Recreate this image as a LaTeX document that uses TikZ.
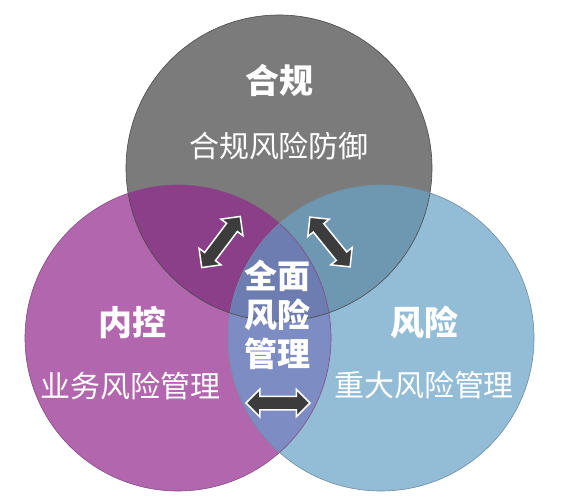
\documentclass[tikz,border=0pt]{standalone}
\usepackage{fontspec}
\newfontfamily\cjk{Noto Sans CJK SC}
\usepackage{xcolor}
\usetikzlibrary{shapes.arrows}
\definecolor{topgray}{HTML}{7B7B7B}
\definecolor{leftpurple}{HTML}{B266AE}
\definecolor{rightblue}{HTML}{93BCD6}
\definecolor{tlpurple}{HTML}{8A3F88}
\definecolor{trblue}{HTML}{6E98B1}
\definecolor{lrblue}{HTML}{7D8CC2}
\definecolor{allblue}{HTML}{6D7DB2}
\definecolor{arrowgray}{HTML}{3C3C3C}

\begin{document}
\begin{tikzpicture}[x=1pt,y=-1pt,
	title/.style={text=white,font=\cjk\bfseries\fontsize{34}{40}\selectfont},
	subtitle/.style={text=white,font=\cjk\fontsize{30}{36}\selectfont},
	twoway/.style={shape=double arrow,fill=arrowgray,draw=white,line width=1.5pt,
		minimum height=64pt,minimum width=27pt,inner xsep=0pt,inner ysep=6pt,
		double arrow head extend=7pt}]
			\fill[white] (0,0) rectangle (574,500);
			\useasboundingbox (0,0) rectangle (574,500);
			\coordinate (ctop) at (279,168);
			\coordinate (cleft) at (178,338);
			\coordinate (cright) at (381,338);
			\fill[color=topgray] (ctop) circle (153pt);
			\fill[color=leftpurple] (cleft) circle (153pt);
			\fill[color=rightblue] (cright) circle (153pt);
%			overlaps
			\begin{scope}
				\clip (ctop) circle (153pt);
				\fill[color=tlpurple] (cleft) circle (153pt);
				\fill[color=trblue] (cright) circle (153pt);
			\end{scope}
			\begin{scope}
				\clip (cleft) circle (153pt);
				\fill[color=lrblue] (cright) circle (153pt);
				\clip (cright) circle (153pt);
				\fill[color=allblue] (ctop) circle (153pt);
			\end{scope}
			\draw[color=topgray!60!black,line width=0.6pt] (ctop) circle (153pt);
			\draw[color=leftpurple!75!black,line width=0.6pt] (cleft) circle (153pt);
			\draw[color=rightblue!75!black,line width=0.6pt] (cright) circle (153pt);
			\node[title] (hegui) at (279,80) {合规};
			\node[subtitle] (heguisub) at (279,146) {合规风险防御};
			\node[title] (neikong) at (132,323) {内控};
			\node[subtitle] (neikongsub) at (131,386) {业务风险管理};
			\node[title] (fengxian) at (424,322) {风险};
			\node[subtitle] (fengxiansub) at (424,385) {重大风险管理};
			\node[title,font=\cjk\bfseries\fontsize{33}{39}\selectfont,align=center] (quanmian) at (277,315) {全面\\风险\\管理};
			\node[twoway,rotate=53] (arrowleft) at (221,242) {};
			\node[twoway,rotate=-51] (arrowright) at (330,242) {};
			\node[twoway] (arrowbottom) at (278,403) {};
		\end{tikzpicture}
\end{document}
